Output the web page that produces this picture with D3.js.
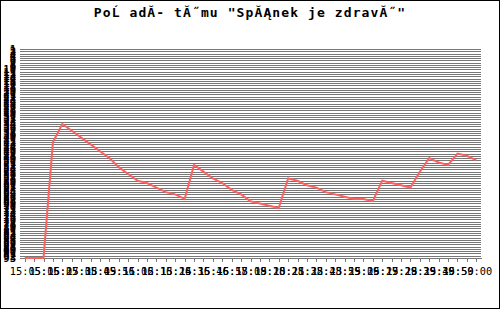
<!DOCTYPE html>
<html>
<head>
<meta charset="utf-8">
<script src="https://cdn.jsdelivr.net/npm/d3@7"></script>
<style>
  body { margin: 0; background: #fff; }
</style>
</head>
<body>
<div id="canvas"></div>
<script>
"use strict"

/* drawing config */
let svgWidth = 500;
let svgHeight = 309;
let plotLeft = 20, plotRight = 481, plotTop = 49, plotBottom = 258;

/* title, as it appears (broken encoding kept) */
let titleText = "PoĹ adĂ- tĂ˝mu \"SpĂĄnek je zdravĂ˝\"";

/* time of each sample */
let times = ["15:04:40", "15:05:15", "15:05:50", "15:06:25", "15:07:00", "15:07:35", "15:08:10",
             "15:08:45", "15:09:21", "15:09:56", "15:10:31", "15:11:06", "15:11:41", "15:12:16",
             "15:12:51", "15:13:26", "15:14:01", "15:14:36", "15:15:11", "15:15:46", "15:16:21",
             "15:16:57", "15:17:32", "15:18:08", "15:18:43", "15:19:18", "15:19:53", "15:20:28",
             "15:21:03", "15:21:38", "15:22:13", "15:22:48", "15:23:24", "15:23:59", "15:24:34",
             "15:25:09", "15:25:44", "15:26:19", "15:26:54", "15:27:29", "15:28:04", "15:28:39",
             "15:29:14", "15:29:49", "15:30:24", "15:30:59", "15:31:34", "15:50:00", "15:50:35"];

/* team rank at each sample */
let ranks = [93, 93, 93, 42, 34, 37, 40, 43, 46, 49, 53, 56, 59, 60, 62, 64, 65, 67,
             52, 55, 58, 60, 63, 65, 68, 69, 70, 71,
             58, 59, 61, 62, 64, 65, 66, 67, 67, 68,
             59, 60, 61, 62, 55, 49, 51, 52, 47, 48, 50];

/* y tick labels: every rank */
let rankTicks = d3.range(1, 94);

let svg = d3.select("#canvas")
    .append("svg")
    .attr("width", svgWidth)
    .attr("height", svgHeight)
    .style("display", "block");

svg.append("rect")
    .attr("width", svgWidth)
    .attr("height", svgHeight)
    .attr("fill", "white");

let xScale = d3.scalePoint()
    .domain(times)
    .range([plotLeft, plotRight])
    .padding(0.5);

let yScale = d3.scaleLinear()
    .domain([1, 93])
    .range([plotTop, plotBottom]);

/* horizontal grid, one line per rank */
svg.append("g")
    .selectAll("line")
    .data(rankTicks)
    .join("line")
    .attr("x1", plotLeft)
    .attr("x2", plotRight)
    .attr("y1", d => Math.round(yScale(d)) + 0.5)
    .attr("y2", d => Math.round(yScale(d)) + 0.5)
    .attr("stroke", "#777777")
    .attr("shape-rendering", "crispEdges");

/* y axis labels (they pile up on each other) */
let yAxis = svg.append("g")
    .attr("transform", "translate(" + plotLeft + ",0)")
    .call(d3.axisLeft(yScale).tickValues(rankTicks).tickSize(0).tickPadding(4).tickFormat(d3.format("d")));
yAxis.select(".domain").remove();
yAxis.selectAll("text")
    .attr("fill", "black")
    .style("font-family", "DejaVu Sans Mono")
    .style("font-weight", "bold")
    .style("font-size", "10.5px");

/* x axis */
let xAxis = svg.append("g")
    .attr("transform", "translate(0," + plotBottom + ")")
    .call(d3.axisBottom(xScale)
        .tickSize(4)
        .tickSizeOuter(0)
        .tickPadding(6)
        .tickFormat((d, i) => i % 2 === 1 ? d : ""));
xAxis.select(".domain")
    .attr("stroke", "#777777")
    .attr("shape-rendering", "crispEdges");
xAxis.selectAll(".tick line")
    .attr("stroke", "#777777")
    .attr("shape-rendering", "crispEdges");
xAxis.selectAll("text")
    .attr("fill", "black")
    .style("font-family", "DejaVu Sans Mono")
    .style("font-size", "10.3px");

/* rank line */
let line = d3.line()
    .x((d, i) => xScale(times[i]))
    .y(d => yScale(d));

svg.append("path")
    .datum(ranks)
    .attr("d", line)
    .attr("fill", "none")
    .attr("stroke", "#ff6060")
    .attr("stroke-width", 2);

/* title */
svg.append("text")
    .attr("x", svgWidth / 2)
    .attr("y", 17)
    .attr("text-anchor", "middle")
    .style("font-family", "DejaVu Sans Mono")
    .style("font-weight", "bold")
    .style("font-size", "13px")
    .style("letter-spacing", "1.1px")
    .style("white-space", "pre")
    .text(titleText);

/* frame */
svg.append("rect")
    .attr("x", 0.5)
    .attr("y", 0.5)
    .attr("width", svgWidth - 1)
    .attr("height", svgHeight - 1)
    .attr("fill", "none")
    .attr("stroke", "black")
    .attr("shape-rendering", "crispEdges");
</script>
</body>
</html>
